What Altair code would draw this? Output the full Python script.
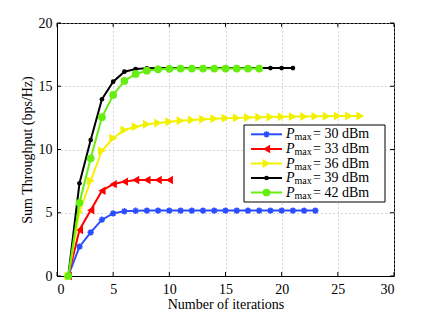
import altair as alt
import pandas as pd

# ---- data ----
iters_blue = list(range(1, 24))
sum_blue = [0, 2.32, 3.45, 4.45, 4.95, 5.12, 5.16, 5.17, 5.17, 5.17, 5.17, 5.17, 5.17, 5.17, 5.17,
            5.17, 5.17, 5.17, 5.17, 5.17, 5.17, 5.17, 5.17]
iters_red = list(range(1, 11))
sum_red = [0, 3.64, 5.2, 6.74, 7.26, 7.46, 7.59, 7.59, 7.59, 7.59]
iters_yellow = list(range(1, 28))
sum_yellow = [0, 5.08, 7.53, 9.9, 10.89, 11.54, 11.8, 11.99, 12.1, 12.2, 12.28, 12.34, 12.39, 12.43,
              12.47, 12.5, 12.53, 12.55, 12.57, 12.59, 12.6, 12.61, 12.62, 12.63, 12.64, 12.65, 12.65]
iters_black = list(range(1, 22))
sum_black = [0, 7.33, 10.75, 13.97, 15.36, 16.15, 16.36, 16.42, 16.44, 16.44, 16.44, 16.44, 16.44,
             16.44, 16.44, 16.44, 16.44, 16.44, 16.44, 16.44, 16.44]
iters_green = list(range(1, 19))
sum_green = [0, 5.79, 9.3, 12.55, 14.31, 15.42, 15.97, 16.23, 16.34, 16.38, 16.4, 16.4, 16.4, 16.4,
             16.4, 16.4, 16.4, 16.4]

pmax_labels = ["30", "33", "36", "39", "42"]
x_ticks = [0, 5, 10, 15, 20, 25, 30]
y_ticks = [0, 5, 10, 15, 20]

series_x = [iters_blue, iters_red, iters_yellow, iters_black, iters_green]
series_y = [sum_blue, sum_red, sum_yellow, sum_black, sum_green]

# ---- styles ----
colors = ["#2a4dff", "#ff0000", "#f2f200", "#000000", "#66ee11"]
ASTER = "M-1,0L1,0M0,-1L0,1M-0.7,-0.7L0.7,0.7M-0.7,0.7L0.7,-0.7"
shapes = [ASTER, "triangle-left", "triangle-right", "circle", "circle"]
sizes = [40, 70, 80, 22, 60]
filled = [False, True, True, True, True]

SERIF = "Liberation Serif"
W, H = 337, 253
TK = 4

xscale = alt.Scale(domain=[0, 30], nice=False)
yscale = alt.Scale(domain=[0, 20], nice=False)

layers = []
for i in range(5):
    df = pd.DataFrame({"x": series_x[i], "y": series_y[i]})
    base = alt.Chart(df).encode(
        x=alt.X("x:Q", scale=xscale,
                axis=alt.Axis(values=x_ticks, title="Number of iterations", format="d",
                              titleX=W / 2, titleY=32, titleBaseline="alphabetic",
                              titleAlign="center")),
        y=alt.Y("y:Q", scale=yscale,
                axis=alt.Axis(values=y_ticks, title="Sum Throughput (bps/Hz)", format="d",
                              titleX=-30, titleY=H / 2, titleBaseline="middle",
                              titleAlign="center", titleAngle=270)),
    )
    layers.append(base.mark_line(color=colors[i], strokeWidth=2))
    layers.append(base.mark_point(shape=shapes[i], size=sizes[i], filled=filled[i],
                                  color=colors[i], opacity=1,
                                  strokeWidth=1.6 if not filled[i] else 1))

# ---- inward ticks on all four sides (MATLAB box style) ----
xt = pd.DataFrame({"t": x_ticks})
yt = pd.DataFrame({"t": y_ticks})
layers.append(alt.Chart(xt).mark_rule(color="black", strokeWidth=1).encode(
    x=alt.X("t:Q", scale=xscale), y=alt.value(H), y2=alt.value(H - TK)))
layers.append(alt.Chart(xt).mark_rule(color="black", strokeWidth=1).encode(
    x=alt.X("t:Q", scale=xscale), y=alt.value(0), y2=alt.value(TK)))
layers.append(alt.Chart(yt).mark_rule(color="black", strokeWidth=1).encode(
    y=alt.Y("t:Q", scale=yscale), x=alt.value(0), x2=alt.value(TK)))
layers.append(alt.Chart(yt).mark_rule(color="black", strokeWidth=1).encode(
    y=alt.Y("t:Q", scale=yscale), x=alt.value(W), x2=alt.value(W - TK)))

# ---- manual legend (MATLAB style) ----
one = pd.DataFrame({"a": [0]})
lx0, lx1, ly0, ly1 = 187, 328, 102, 179
layers.append(alt.Chart(one).mark_rect(fill="white", stroke="black", strokeWidth=1).encode(
    x=alt.value(lx0), x2=alt.value(lx1), y=alt.value(ly0), y2=alt.value(ly1)))
row_y = [111.3, 126, 140.5, 155, 169.5]
for i in range(5):
    yy = row_y[i]
    layers.append(alt.Chart(one).mark_rule(color=colors[i], strokeWidth=2).encode(
        x=alt.value(194), x2=alt.value(225), y=alt.value(yy)))
    layers.append(alt.Chart(one).mark_point(shape=shapes[i], size=sizes[i], filled=filled[i],
                                            color=colors[i], opacity=1,
                                            strokeWidth=1.6 if not filled[i] else 1).encode(
        x=alt.value(209.5), y=alt.value(yy)))
    lab = pd.DataFrame({"p": ["P"], "m": ["max"], "r": ["= " + pmax_labels[i] + " dBm"]})
    layers.append(alt.Chart(lab).mark_text(font=SERIF, fontStyle="italic", fontSize=14,
                                           align="left", baseline="middle", color="black").encode(
        x=alt.value(229), y=alt.value(yy), text="p:N"))
    layers.append(alt.Chart(lab).mark_text(font=SERIF, fontSize=10, align="left",
                                           baseline="middle", color="black").encode(
        x=alt.value(237.5), y=alt.value(yy + 3), text="m:N"))
    layers.append(alt.Chart(lab).mark_text(font=SERIF, fontSize=14, align="left",
                                           baseline="middle", color="black").encode(
        x=alt.value(256), y=alt.value(yy), text="r:N"))

chart = alt.layer(*layers).properties(
    width=W, height=H,
    autosize=alt.AutoSizeParams(type="none"),
    padding={"left": 49, "top": 15, "right": 20, "bottom": 34},
).configure_view(
    stroke="black", strokeWidth=1
).configure_axis(
    labelFont=SERIF, titleFont=SERIF, labelFontSize=14, titleFontSize=14,
    titleFontWeight="normal", labelColor="black", titleColor="black",
    domainColor="black", domainWidth=1, ticks=False,
    grid=True, gridColor="#b0b0b0", gridDash=[1, 3], gridWidth=1,
).configure_axisX(
    labelPadding=6
).configure_axisY(
    labelPadding=5
)

chart.save("out.html", embed_options={"renderer": "svg", "actions": False})
